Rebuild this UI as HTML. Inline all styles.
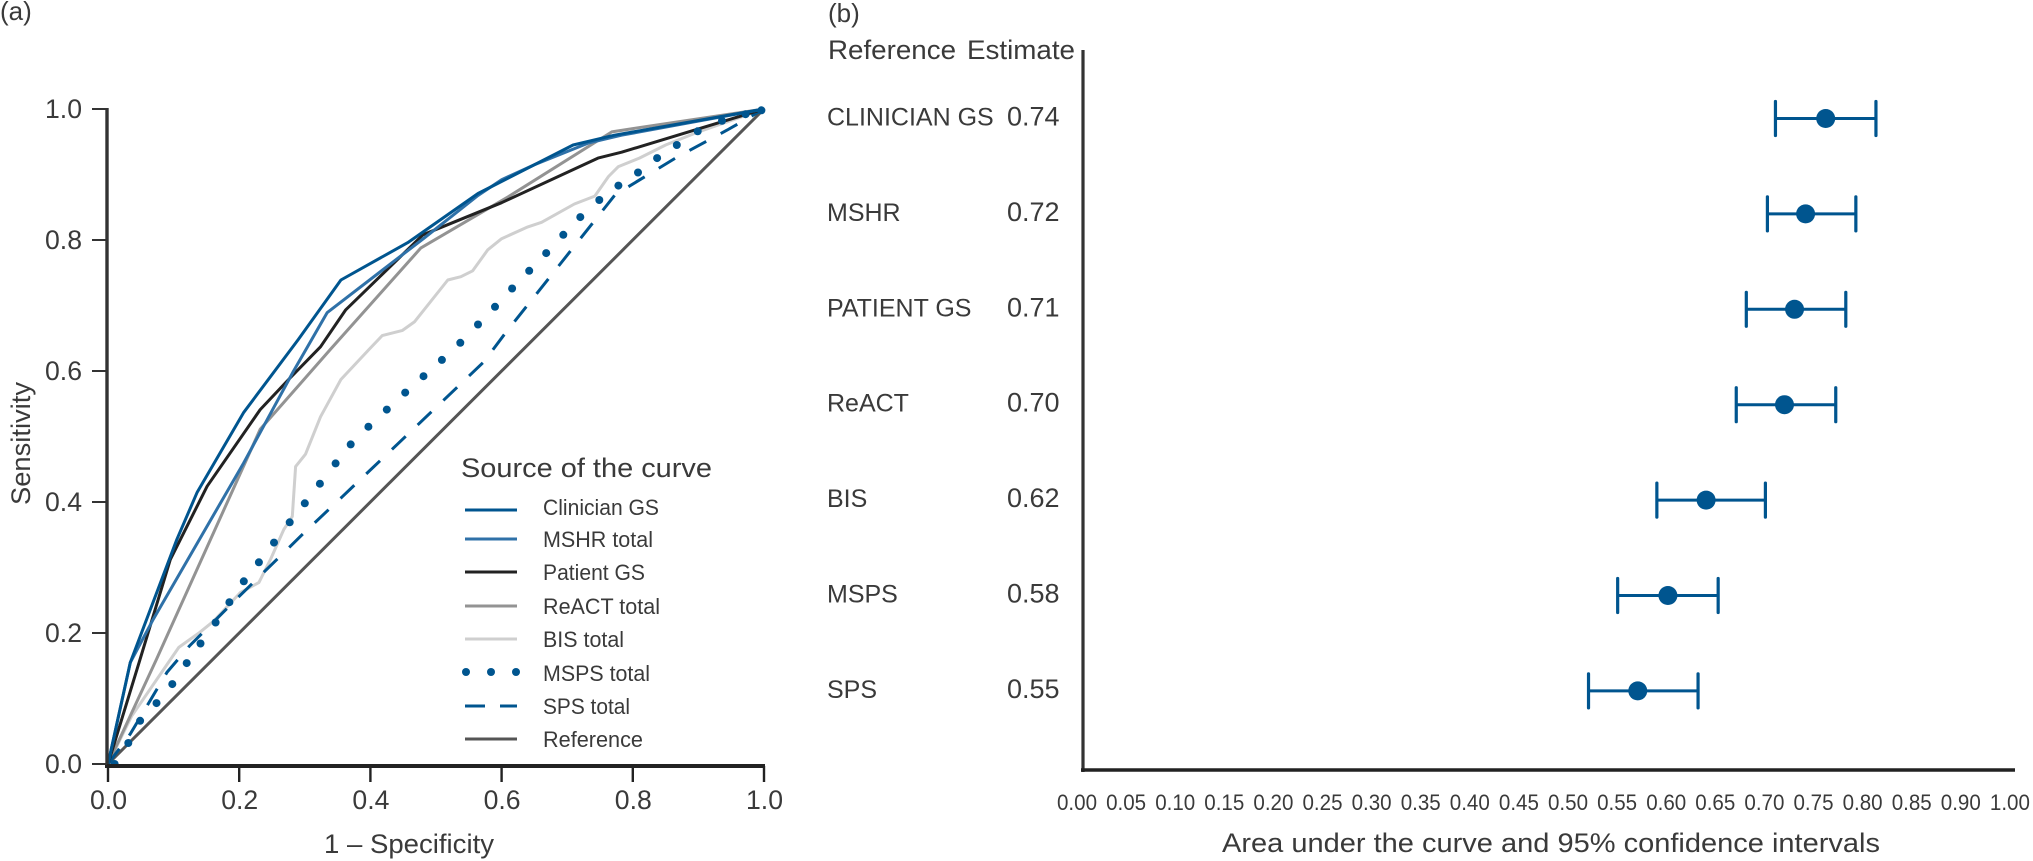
<!DOCTYPE html>
<html lang="en">
<head>
<meta charset="utf-8">
<title>ROC curves and area under the curve</title>
<style>
html,body{margin:0;padding:0;background:#fff;}
svg{display:block;}
text{font-family:"Liberation Sans",sans-serif;fill:#3a3a3a;}
</style>
</head>
<body>
<svg id="figure" xmlns="http://www.w3.org/2000/svg" width="2033" height="861" viewBox="0 0 2033 861">
  <rect width="2033" height="861" fill="#fff"/>

  <g id="panel-a">
    <text x="0" y="20" font-size="26">(a)</text>
    <g id="roc-curves"></g>
    <g id="roc-axes"></g>
    <text transform="translate(30,443.5) rotate(-90)" font-size="27" text-anchor="middle" textLength="123" lengthAdjust="spacingAndGlyphs">Sensitivity</text>
    <text x="324" y="853" font-size="27" textLength="170" lengthAdjust="spacingAndGlyphs">1 – Specificity</text>

    <g>
      <text x="461" y="477" font-size="27" textLength="251" lengthAdjust="spacingAndGlyphs">Source of the curve</text>
      <g>
        <line x1="465" y1="510" x2="517" y2="510" stroke="#00558f" stroke-width="3"/>
        <text x="543" y="515" font-size="22" textLength="116" lengthAdjust="spacingAndGlyphs">Clinician GS</text>
      </g>
      <g>
        <line x1="465" y1="539" x2="517" y2="539" stroke="#2f71a8" stroke-width="3"/>
        <text x="543" y="547" font-size="22" textLength="110" lengthAdjust="spacingAndGlyphs">MSHR total</text>
      </g>
      <g>
        <line x1="465" y1="572" x2="517" y2="572" stroke="#222" stroke-width="3"/>
        <text x="543" y="580" font-size="22" textLength="102" lengthAdjust="spacingAndGlyphs">Patient GS</text>
      </g>
      <g>
        <line x1="465" y1="606" x2="517" y2="606" stroke="#939393" stroke-width="3"/>
        <text x="543" y="614" font-size="22" textLength="117" lengthAdjust="spacingAndGlyphs">ReACT total</text>
      </g>
      <g>
        <line x1="465" y1="639" x2="517" y2="639" stroke="#cfcfcf" stroke-width="3"/>
        <text x="543" y="647" font-size="22" textLength="81" lengthAdjust="spacingAndGlyphs">BIS total</text>
      </g>
      <g>
        <circle cx="466" cy="672" r="4" fill="#00558f"/>
        <circle cx="491" cy="672" r="4" fill="#00558f"/>
        <circle cx="516" cy="672" r="4" fill="#00558f"/>
        <text x="543" y="681" font-size="22" textLength="107" lengthAdjust="spacingAndGlyphs">MSPS total</text>
      </g>
      <g>
        <line x1="465" y1="706" x2="485" y2="706" stroke="#00558f" stroke-width="3"/>
        <line x1="500" y1="706" x2="517" y2="706" stroke="#00558f" stroke-width="3"/>
        <text x="543" y="714" font-size="22" textLength="87" lengthAdjust="spacingAndGlyphs">SPS total</text>
      </g>
      <g>
        <line x1="465" y1="739" x2="517" y2="739" stroke="#555" stroke-width="3"/>
        <text x="543" y="747" font-size="22" textLength="100" lengthAdjust="spacingAndGlyphs">Reference</text>
      </g>
    </g>
  </g>

  <g id="panel-b">
    <text x="828" y="22" font-size="26">(b)</text>
    <text x="828" y="59" font-size="27" textLength="128" lengthAdjust="spacingAndGlyphs">Reference</text>
    <text x="967" y="59" font-size="27" textLength="108" lengthAdjust="spacingAndGlyphs">Estimate</text>
    <g id="forest-axes"></g>
    <g id="forest-rows"></g>
    <text x="1222" y="852" font-size="27" textLength="658" lengthAdjust="spacingAndGlyphs">Area under the curve and 95% confidence intervals</text>
  </g>
</svg>

<script>
// ---------- Panel (a): ROC curves ----------
const rocTicks = [0, 0.2, 0.4, 0.6, 0.8, 1];

const clinicianFpr = [0, 0.034, 0.105, 0.136, 0.207, 0.29, 0.355, 0.457, 0.564, 0.709, 0.772, 1];
const clinicianTpr = [0, 0.155, 0.343, 0.415, 0.537, 0.648, 0.739, 0.796, 0.871, 0.945, 0.96, 1];

const mshrFpr = [0, 0.034, 0.069, 0.207, 0.283, 0.334, 0.426, 0.482, 0.564, 0.6, 0.65, 0.732, 0.783, 1];
const mshrTpr = [0, 0.155, 0.221, 0.46, 0.6, 0.689, 0.76, 0.803, 0.868, 0.892, 0.915, 0.948, 0.96, 1];

const patientFpr = [0, 0.049, 0.095, 0.151, 0.232, 0.278, 0.324, 0.362, 0.48, 0.6, 0.747, 0.783, 1];
const patientTpr = [0, 0.16, 0.312, 0.424, 0.541, 0.59, 0.637, 0.693, 0.808, 0.857, 0.925, 0.934, 1];

const reactFpr = [0, 0.074, 0.232, 0.339, 0.477, 0.61, 0.768, 0.8, 1];
const reactTpr = [0, 0.16, 0.511, 0.633, 0.788, 0.866, 0.965, 0.97, 1];

const bisFpr = [0, 0.036, 0.092, 0.108, 0.14, 0.161, 0.202, 0.23, 0.248, 0.268, 0.281, 0.286, 0.301, 0.324, 0.355, 0.398, 0.418, 0.449, 0.467, 0.518, 0.538, 0.556, 0.579, 0.6, 0.64, 0.661, 0.711, 0.742, 0.763, 0.778, 0.81, 0.85, 0.9, 1];
const bisTpr = [0, 0.073, 0.155, 0.178, 0.201, 0.218, 0.262, 0.277, 0.313, 0.358, 0.378, 0.454, 0.473, 0.53, 0.587, 0.633, 0.654, 0.662, 0.675, 0.739, 0.744, 0.753, 0.785, 0.802, 0.82, 0.827, 0.855, 0.867, 0.897, 0.912, 0.925, 0.945, 0.965, 1];

const mspsFpr = [0.01, 0.031, 0.049, 0.074, 0.098, 0.12, 0.141, 0.164, 0.185, 0.207, 0.23, 0.253, 0.277, 0.3, 0.323, 0.347, 0.37, 0.397, 0.425, 0.453, 0.481, 0.509, 0.537, 0.564, 0.59, 0.616, 0.642, 0.668, 0.694, 0.72, 0.749, 0.778, 0.808, 0.837, 0.867, 0.899, 0.936, 0.972, 0.996];
const mspsTpr = [0, 0.032, 0.066, 0.093, 0.122, 0.154, 0.184, 0.216, 0.247, 0.279, 0.308, 0.338, 0.369, 0.398, 0.428, 0.459, 0.488, 0.515, 0.541, 0.567, 0.592, 0.617, 0.643, 0.671, 0.698, 0.726, 0.753, 0.78, 0.808, 0.835, 0.861, 0.883, 0.903, 0.925, 0.945, 0.966, 0.982, 0.992, 0.998];

const spsFpr = [0, 0.034, 0.09, 0.124, 0.2, 0.298, 0.357, 0.573, 0.605, 0.773, 0.865, 0.944, 1];
const spsTpr = [0, 0.046, 0.14, 0.18, 0.256, 0.352, 0.408, 0.614, 0.657, 0.869, 0.925, 0.968, 1];

const referenceFpr = [0, 1];
const referenceTpr = [0, 1];

// ---------- Panel (b): forest plot ----------
const forestRowLabels = ['CLINICIAN GS', 'MSHR', 'PATIENT GS', 'ReACT', 'BIS', 'MSPS', 'SPS'];
const forestEstimates = [0.74, 0.72, 0.709, 0.699, 0.621, 0.583, 0.553];
const forestLower = [0.69, 0.682, 0.661, 0.651, 0.572, 0.533, 0.504];
const forestUpper = [0.79, 0.77, 0.76, 0.75, 0.68, 0.633, 0.613];
const forestTickLabels = ['0.00', '0.05', '0.10', '0.15', '0.20', '0.25', '0.30', '0.35', '0.40', '0.45', '0.50', '0.55', '0.60', '0.65', '0.70', '0.75', '0.80', '0.85', '0.90', '1.00'];

const SVGNS = 'http://www.w3.org/2000/svg';
function mk(tag, parent, attrs) {
  const el = document.createElementNS(SVGNS, tag);
  for (const k in attrs) el.setAttribute(k, attrs[k]);
  parent.appendChild(el);
  return el;
}

// axis functions
const rocX = v => 108 + v * 656;
const rocY = v => 764 - v * 655;
const forestX = v => 1082 + v * 1005;
const forestRowY = i => 118.5 + i * 95.4;
const forestTickX = i => 1077 + i * 49.1;

function rocPoints(xs, ys) {
  return xs.map((x, i) => rocX(x).toFixed(1) + ',' + rocY(ys[i]).toFixed(1)).join(' ');
}

// curves
const curves = document.getElementById('roc-curves');

const refLine = mk('polyline', curves, {points: rocPoints(referenceFpr, referenceTpr), fill: 'none', stroke: '#555', 'stroke-width': 3});



const bisLine = mk('polyline', curves, {points: rocPoints(bisFpr, bisTpr), fill: 'none', stroke: '#cfcfcf', 'stroke-width': 3, 'stroke-linejoin': 'round'});



const reactLine = mk('polyline', curves, {points: rocPoints(reactFpr, reactTpr), fill: 'none', stroke: '#939393', 'stroke-width': 3, 'stroke-linejoin': 'round'});



const spsLine = mk('polyline', curves, {points: rocPoints(spsFpr, spsTpr), fill: 'none', stroke: '#00558f', 'stroke-width': 3, 'stroke-dasharray': '19 16.5'});



const patientLine = mk('polyline', curves, {points: rocPoints(patientFpr, patientTpr), fill: 'none', stroke: '#222', 'stroke-width': 3, 'stroke-linejoin': 'round'});



const mshrLine = mk('polyline', curves, {points: rocPoints(mshrFpr, mshrTpr), fill: 'none', stroke: '#2f71a8', 'stroke-width': 3, 'stroke-linejoin': 'round'});



const clinicianLine = mk('polyline', curves, {points: rocPoints(clinicianFpr, clinicianTpr), fill: 'none', stroke: '#00558f', 'stroke-width': 3, 'stroke-linejoin': 'round'});



mspsFpr.forEach((x, i) => {
  const dot = mk('circle', curves, {cx: rocX(x).toFixed(1), cy: rocY(mspsTpr[i]).toFixed(1), r: 4, fill: '#00558f'});
  
  
});

// ROC axes
const rocAxes = document.getElementById('roc-axes');
const rocYAxis = mk('line', rocAxes, {x1: 107, y1: rocY(1) - 1, x2: 107, y2: 768, stroke: '#333', 'stroke-width': 3.4});


const rocXAxis = mk('line', rocAxes, {x1: 105, y1: 766, x2: rocX(1) + 1, y2: 766, stroke: '#222', 'stroke-width': 4});



rocTicks.forEach(t => {
  const yt = mk('line', rocAxes, {x1: 92, x2: 107, y1: rocY(t), y2: rocY(t), stroke: '#333', 'stroke-width': 2});
  
  
  const yl = mk('text', rocAxes, {x: 45, y: rocY(t) + 9, 'font-size': 27, textLength: 37, lengthAdjust: 'spacingAndGlyphs'});
  yl.textContent = t.toFixed(1);
  
  

  const xt = mk('line', rocAxes, {x1: rocX(t), x2: rocX(t), y1: 766, y2: 782, stroke: '#222', 'stroke-width': 2.4});
  
  
  const xl = mk('text', rocAxes, {x: rocX(t) - 18, y: 809, 'font-size': 27, textLength: 37, lengthAdjust: 'spacingAndGlyphs'});
  xl.textContent = t.toFixed(1);
  
  
});

// forest axes
const forestAxes = document.getElementById('forest-axes');
const fY = mk('line', forestAxes, {x1: 1083, y1: 50, x2: 1083, y2: 772, stroke: '#333', 'stroke-width': 3.2});


const fX = mk('line', forestAxes, {x1: 1081, y1: 770, x2: 2015, y2: 770, stroke: '#222', 'stroke-width': 3.6});



forestTickLabels.forEach((label, i) => {
  const t = mk('text', forestAxes, {x: forestTickX(i), y: 810, 'font-size': 22, 'text-anchor': 'middle', textLength: 40, lengthAdjust: 'spacingAndGlyphs'});
  t.textContent = label;
  
  
});

// forest rows
const forestRows = document.getElementById('forest-rows');
forestRowLabels.forEach((label, i) => {
  const y = forestRowY(i);
  const rowLabel = mk('text', forestRows, {x: 827, y: y + 7, 'font-size': 25});
  rowLabel.textContent = label;
  
  

  const est = mk('text', forestRows, {x: 1007, y: y + 7, 'font-size': 27});
  est.textContent = forestEstimates[i].toFixed(2);
  
  

  const ci = mk('line', forestRows, {x1: forestX(forestLower[i]), x2: forestX(forestUpper[i]), y1: y, y2: y, stroke: '#00558f', 'stroke-width': 3});
  
  

  const capL = mk('line', forestRows, {x1: forestX(forestLower[i]), x2: forestX(forestLower[i]), y1: y - 17, y2: y + 17, stroke: '#00558f', 'stroke-width': 3.2, 'stroke-linecap': 'round'});
  
  

  const capU = mk('line', forestRows, {x1: forestX(forestUpper[i]), x2: forestX(forestUpper[i]), y1: y - 17, y2: y + 17, stroke: '#00558f', 'stroke-width': 3.2, 'stroke-linecap': 'round'});
  
  

  const pt = mk('circle', forestRows, {cx: forestX(forestEstimates[i]), cy: y, r: 9.5, fill: '#00558f'});
  
  
});
</script>
</body>
</html>
